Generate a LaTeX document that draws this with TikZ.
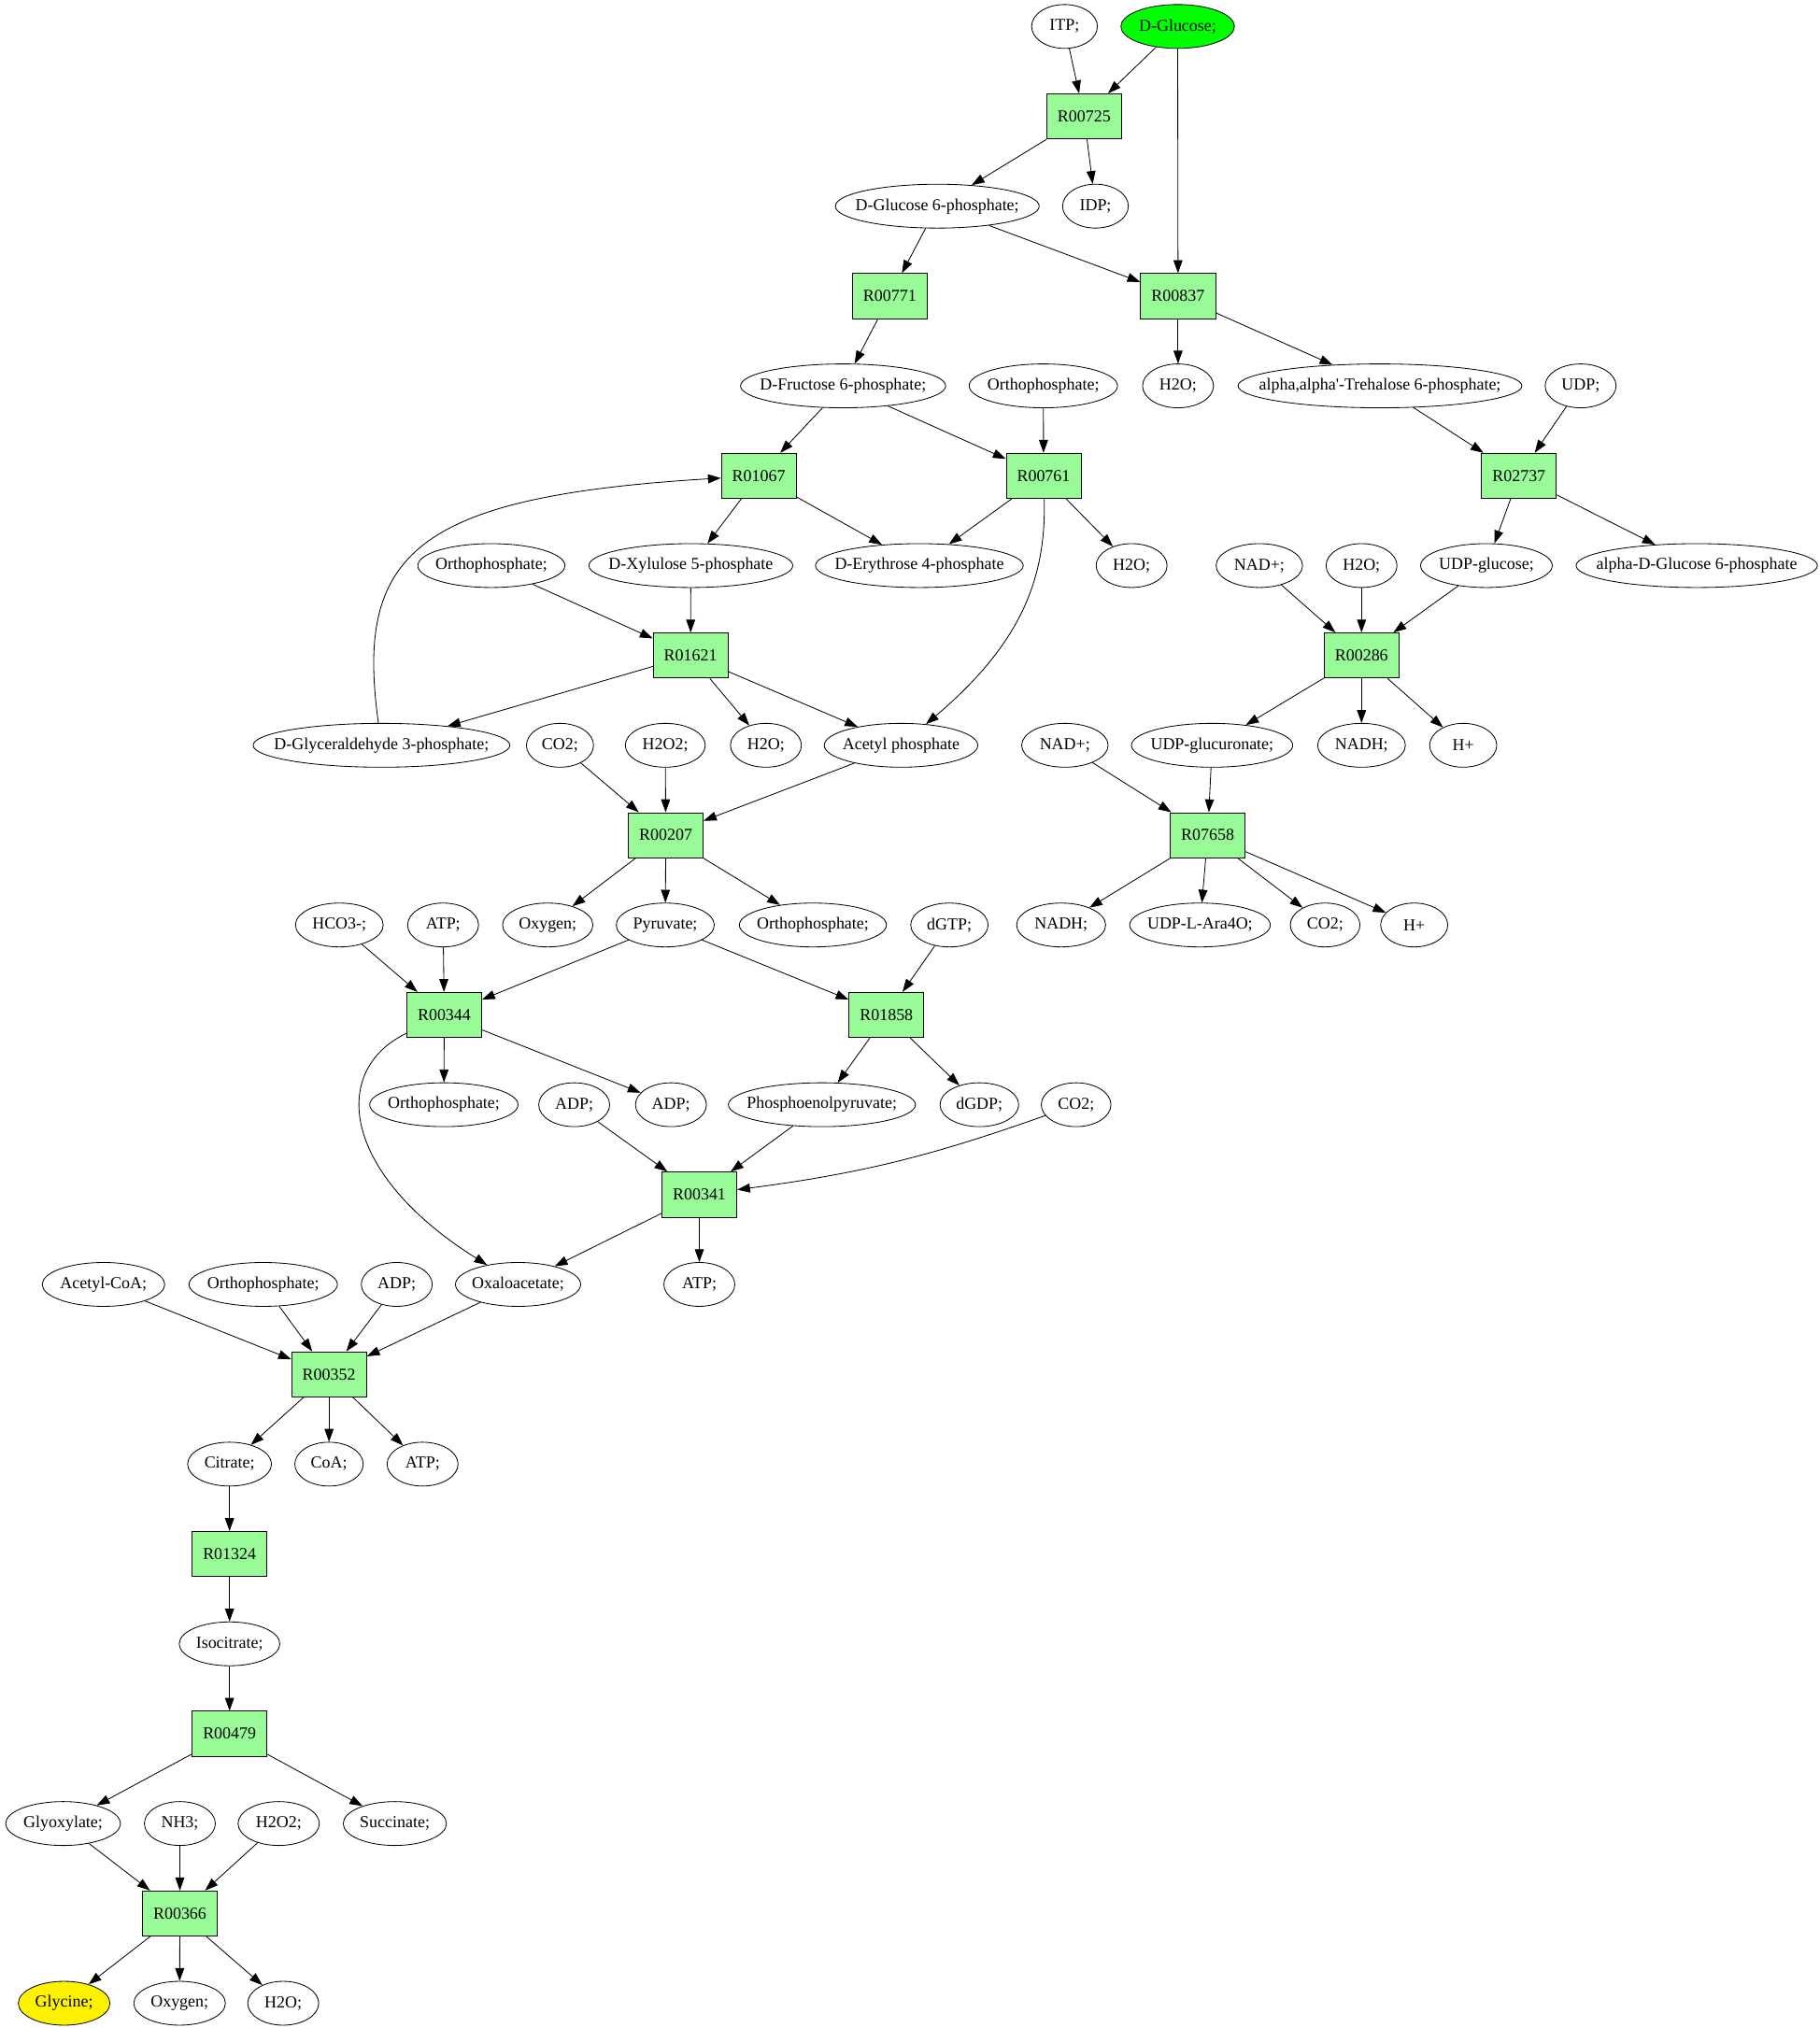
\documentclass[tikz,border=0pt]{standalone}
\usepackage{fontspec}
\setmainfont{Liberation Serif}
\usetikzlibrary{shapes.geometric}
\usetikzlibrary{arrows.meta}
\definecolor{palegreen}{RGB}{152,251,152}

\begin{document}
\begin{tikzpicture}[x=1pt,y=-1pt,line width=0.6pt,
    font=\fontsize{13}{15}\selectfont,
    met/.style={ellipse,draw,inner sep=0pt,minimum height=34pt,minimum width=#1},
    met/.default=55,
    rxn/.style={rectangle,draw,fill=palegreen,inner sep=0pt,minimum width=58pt,minimum height=35pt},
    >={Triangle[length=10pt,width=7pt]}]
    \useasboundingbox (0,0) rectangle (1410,1572);

    % compounds and reactions, row by row
    \node[met=51,label={center:{ITP;}}] (itp) at (825,20.5) {};
    \node[met=88,fill=green,label={center:{D-Glucose;}}] (glc) at (912.7,20.5) {};
    \node[rxn] (r00725) at (840.2,90.2) {R00725};
    \node[met=158,label={center:{D-Glucose 6-phosphate;}}] (g6p) at (726.4,159.8) {};
    \node[met=51,label={center:{IDP;}}] (idp) at (849,159.8) {};
    \node[rxn] (r00771) at (689.6,229.5) {R00771};
    \node[rxn] (r00837) at (913,229.5) {R00837};
    \node[met=159,label={center:{D-Fructose 6-phosphate;}}] (f6p) at (653.4,299.1) {};
    \node[met=115,label={center:{Orthophosphate;}}] (piA) at (808.6,299.1) {};
    \node[met,label={center:{H2O;}}] (wA) at (913,299.1) {};
    \node[met=220,label={center:{alpha,alpha\textquotesingle-Trehalose 6-phosphate;}}] (t6p) at (1069.5,299.1) {};
    \node[met,label={center:{UDP;}}] (udp) at (1225,299.1) {};
    \node[rxn] (r01067) at (588,368.8) {R01067};
    \node[rxn] (r00761) at (808.8,368.8) {R00761};
    \node[rxn] (r02737) at (1177.2,368.8) {R02737};
    \node[met=114,label={center:{Orthophosphate;}}] (piB) at (380.8,438.4) {};
    \node[met=158,label={center:{D-Xylulose 5-phosphate}}] (xu5p) at (535.4,438.4) {};
    \node[met=161,label={center:{D-Erythrose 4-phosphate}}] (e4p) at (712.5,438.4) {};
    \node[met,label={center:{H2O;}}] (wB) at (877,438.4) {};
    \node[met=67,label={center:{NAD+;}}] (nadA) at (976,438.4) {};
    \node[met,label={center:{H2O;}}] (wC) at (1055.2,438.4) {};
    \node[met=102,label={center:{UDP-glucose;}}] (udpg) at (1152,438.4) {};
    \node[met=187,label={center:{alpha-D-Glucose 6-phosphate}}] (ag6p) at (1315,438.4) {};
    \node[rxn] (r01621) at (535.2,508.1) {R01621};
    \node[rxn] (r00286) at (1055.2,508.1) {R00286};
    \node[met=199,label={center:{D-Glyceraldehyde 3-phosphate;}}] (ga3p) at (295.7,577.7) {};
    \node[met=52,label={center:{CO2;}}] (co2A) at (434,577.7) {};
    \node[met=62,label={center:{H2O2;}}] (hpA) at (515.6,577.7) {};
    \node[met,label={center:{H2O;}}] (wD) at (593.6,577.7) {};
    \node[met=119,label={center:{Acetyl phosphate}}] (acp) at (698.3,577.7) {};
    \node[met=67,label={center:{NAD+;}}] (nadB) at (825.3,577.7) {};
    \node[met=125,label={center:{UDP-glucuronate;}}] (udpga) at (939.4,577.7) {};
    \node[met=68,label={center:{NADH;}}] (nadhA) at (1055.2,577.7) {};
    \node[met=52,label={center:{H+}}] (hA) at (1134,577.7) {};
    \node[rxn] (r00207) at (516,647.4) {R00207};
    \node[rxn] (r07658) at (936,647.4) {R07658};
    \node[met=68,label={center:{HCO3-;}}] (hco3) at (263,717) {};
    \node[met,label={center:{ATP;}}] (atpA) at (343.4,717) {};
    \node[met=70,label={center:{Oxygen;}}] (oxyA) at (424.5,717) {};
    \node[met=76,label={center:{Pyruvate;}}] (pyr) at (515.6,717) {};
    \node[met=114,label={center:{Orthophosphate;}}] (piC) at (630,717) {};
    \node[met=60,label={center:{dGTP;}}] (dgtp) at (735.8,717) {};
    \node[met=69,label={center:{NADH;}}] (nadhB) at (822.4,717) {};
    \node[met=109,label={center:{UDP-L-Ara4O;}}] (ara) at (930,717) {};
    \node[met=54,label={center:{CO2;}}] (co2B) at (1027,717) {};
    \node[met=52,label={center:{H+}}] (hB) at (1096,717) {};
    \node[rxn] (r00344) at (344.3,786.7) {R00344};
    \node[rxn] (r01858) at (687,786.7) {R01858};
    \node[met=115,label={center:{Orthophosphate;}}] (piD) at (344,856.3) {};
    \node[met,label={center:{ADP;}}] (adpA) at (445,856.3) {};
    \node[met,label={center:{ADP;}}] (adpB) at (520,856.3) {};
    \node[met=145,label={center:{Phosphoenolpyruvate;}}] (pep) at (637,856.3) {};
    \node[met=61,label={center:{dGDP;}}] (dgdp) at (759,856.3) {};
    \node[met=54,label={center:{CO2;}}] (co2C) at (834,856.3) {};
    \node[rxn] (r00341) at (542,926) {R00341};
    \node[met=95,label={center:{Acetyl-CoA;}}] (accoa) at (80.2,995.6) {};
    \node[met=115,label={center:{Orthophosphate;}}] (piE) at (204,995.6) {};
    \node[met,label={center:{ADP;}}] (adpC) at (307.5,995.6) {};
    \node[met=97,label={center:{Oxaloacetate;}}] (oaa) at (401.5,995.6) {};
    \node[met,label={center:{ATP;}}] (atpB) at (542,995.6) {};
    \node[rxn] (r00352) at (255,1065.3) {R00352};
    \node[met=65,label={center:{Citrate;}}] (cit) at (177.9,1134.9) {};
    \node[met=53,label={center:{CoA;}}] (coa) at (255,1134.9) {};
    \node[met,label={center:{ATP;}}] (atpC) at (327.5,1134.9) {};
    \node[rxn] (r01324) at (177.9,1204.6) {R01324};
    \node[met=78,label={center:{Isocitrate;}}] (icit) at (177.9,1274.2) {};
    \node[rxn] (r00479) at (177.9,1343.9) {R00479};
    \node[met=89,label={center:{Glyoxylate;}}] (glx) at (48.9,1413.5) {};
    \node[met,label={center:{NH3;}}] (nh3) at (139.4,1413.5) {};
    \node[met=63,label={center:{H2O2;}}] (hpB) at (216,1413.5) {};
    \node[met=80,label={center:{Succinate;}}] (suc) at (306,1413.5) {};
    \node[rxn] (r00366) at (139.4,1483.2) {R00366};
    \node[met=71,fill=yellow,label={center:{Glycine;}}] (gly) at (49.7,1552.8) {};
    \node[met=71,label={center:{Oxygen;}}] (oxyB) at (139.2,1552.8) {};
    \node[met,label={center:{H2O;}}] (wE) at (219.5,1552.8) {};

    % straight edges
    \foreach \a/\b in {itp/r00725, glc/r00725, glc/r00837, r00725/g6p, r00725/idp,
        g6p/r00771, g6p/r00837, r00771/f6p, r00837/wA, r00837/t6p,
        t6p/r02737, udp/r02737, f6p/r01067, f6p/r00761, piA/r00761,
        r01067/xu5p, r01067/e4p, r00761/e4p, r00761/wB, r02737/udpg, r02737/ag6p,
        piB/r01621, xu5p/r01621, nadA/r00286, wC/r00286, udpg/r00286,
        r01621/ga3p, r01621/wD, r01621/acp, r00286/udpga, r00286/nadhA, r00286/hA,
        co2A/r00207, hpA/r00207, acp/r00207, nadB/r07658, udpga/r07658,
        r00207/oxyA, r00207/pyr, r00207/piC,
        r07658/nadhB, r07658/ara, r07658/co2B, r07658/hB,
        hco3/r00344, atpA/r00344, pyr/r00344, pyr/r01858, dgtp/r01858,
        r00344/piD, r00344/adpB, r01858/pep, r01858/dgdp,
        adpA/r00341, pep/r00341, r00341/oaa, r00341/atpB,
        accoa/r00352, piE/r00352, adpC/r00352, oaa/r00352,
        r00352/cit, r00352/coa, r00352/atpC,
        cit/r01324, r01324/icit, icit/r00479, r00479/glx, r00479/suc,
        glx/r00366, nh3/r00366, hpB/r00366,
        r00366/gly, r00366/oxyB, r00366/wE}
      \draw[->] (\a) -- (\b);

    % curved edges
    \draw[->] (ga3p) .. controls (275,430) and (320,385) .. (r01067);
    \draw[->] (r00761) .. controls (811,450) and (790,500) .. (acp);
    \draw[->] (r00344) .. controls (255,830) and (265,910) .. (oaa);
    \draw[->] (co2C) to[bend left=6] (r00341);
\end{tikzpicture}
\end{document}
